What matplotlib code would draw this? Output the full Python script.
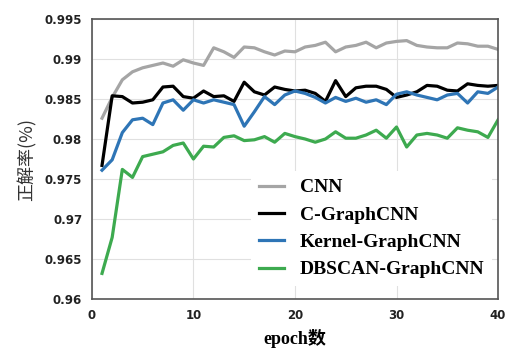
import matplotlib.pyplot as plt
import numpy as np

epochs = np.arange(1, 41)

cnn = [0.9826, 0.9852, 0.9874, 0.9884, 0.9889, 0.9892, 0.9895, 0.9891, 0.9899, 0.9895,
       0.9892, 0.9914, 0.9909, 0.9902, 0.9915, 0.9914, 0.9909, 0.9905, 0.9910, 0.9909,
       0.9915, 0.9917, 0.9921, 0.9909, 0.9915, 0.9917, 0.9921, 0.9914, 0.9920, 0.9922,
       0.9923, 0.9917, 0.9915, 0.9914, 0.9914, 0.9920, 0.9919, 0.9916, 0.9916, 0.9912]

c_graph = [0.9767, 0.9854, 0.9853, 0.9845, 0.9846, 0.9849, 0.9865, 0.9866, 0.9853, 0.9851,
           0.9860, 0.9853, 0.9854, 0.9847, 0.9871, 0.9859, 0.9855, 0.9865, 0.9862, 0.9860,
           0.9861, 0.9857, 0.9847, 0.9873, 0.9853, 0.9864, 0.9866, 0.9866, 0.9862, 0.9852,
           0.9855, 0.9859, 0.9867, 0.9866, 0.9861, 0.9860, 0.9869, 0.9867, 0.9866, 0.9867]

kernel_graph = [0.9761, 0.9774, 0.9808, 0.9824, 0.9826, 0.9818, 0.9845, 0.9849, 0.9836, 0.9849,
                0.9845, 0.9849, 0.9846, 0.9843, 0.9816, 0.9834, 0.9853, 0.9843, 0.9855, 0.9860,
                0.9857, 0.9852, 0.9845, 0.9852, 0.9847, 0.9851, 0.9846, 0.9849, 0.9843, 0.9856,
                0.9859, 0.9855, 0.9852, 0.9849, 0.9855, 0.9857, 0.9845, 0.9859, 0.9857, 0.9865]

dbscan_graph = [0.9632, 0.9677, 0.9762, 0.9752, 0.9778, 0.9781, 0.9784, 0.9792, 0.9795, 0.9775,
                0.9791, 0.9790, 0.9802, 0.9804, 0.9798, 0.9799, 0.9803, 0.9796, 0.9807, 0.9803,
                0.9800, 0.9796, 0.9800, 0.9809, 0.9801, 0.9801, 0.9805, 0.9811, 0.9801, 0.9815,
                0.9790, 0.9805, 0.9807, 0.9805, 0.9801, 0.9814, 0.9811, 0.9809, 0.9802, 0.9824]

labels = ['CNN', 'C-GraphCNN', 'Kernel-GraphCNN', 'DBSCAN-GraphCNN']
colors = ['#A5A5A5', '#000000', '#2E75B6', '#3DAA4F']

fig = plt.figure(figsize=(5.31, 3.62), dpi=100)
ax = fig.add_axes([0.173, 0.174, 0.765, 0.7735])

for ys, lab, col in zip([cnn, c_graph, kernel_graph, dbscan_graph], labels, colors):
    ax.plot(epochs, ys, color=col, lw=2.3, label=lab)

ax.set_xlim(0, 40)
ax.set_ylim(0.96, 0.995)
ax.set_xticks([0, 10, 20, 30, 40])
ax.set_yticks([0.96, 0.965, 0.97, 0.975, 0.98, 0.985, 0.99, 0.995])
ax.set_yticklabels(['0.96', '0.965', '0.97', '0.975', '0.98', '0.985', '0.99', '0.995'])
ax.grid(True, color='#E0E0E0', lw=0.8)
ax.set_axisbelow(True)
ax.tick_params(length=0, pad=7, labelsize=8.5)
for t in ax.get_xticklabels() + ax.get_yticklabels():
    t.set_fontweight('bold')
    t.set_color('#222222')
for s in ax.spines.values():
    s.set_color('#555555')
    s.set_linewidth(1.2)

ax.set_xlabel('epoch数', family=['Liberation Serif', 'Noto Sans CJK SC'],
              fontweight='bold', fontsize=13, labelpad=5)
ax.set_ylabel('正解率(%)', family=['Noto Sans CJK SC', 'DejaVu Sans'],
              fontsize=13, labelpad=6, color='#333333')

leg = ax.legend(loc='lower right', bbox_to_anchor=(1.0, 0.025), frameon=True,
                facecolor='white', edgecolor='none', framealpha=1,
                handlelength=1.3, labelspacing=0.5, borderaxespad=0.3,
                prop={'family': 'Liberation Serif', 'weight': 'bold', 'size': 14})

fig.savefig('out.png', dpi=100)
